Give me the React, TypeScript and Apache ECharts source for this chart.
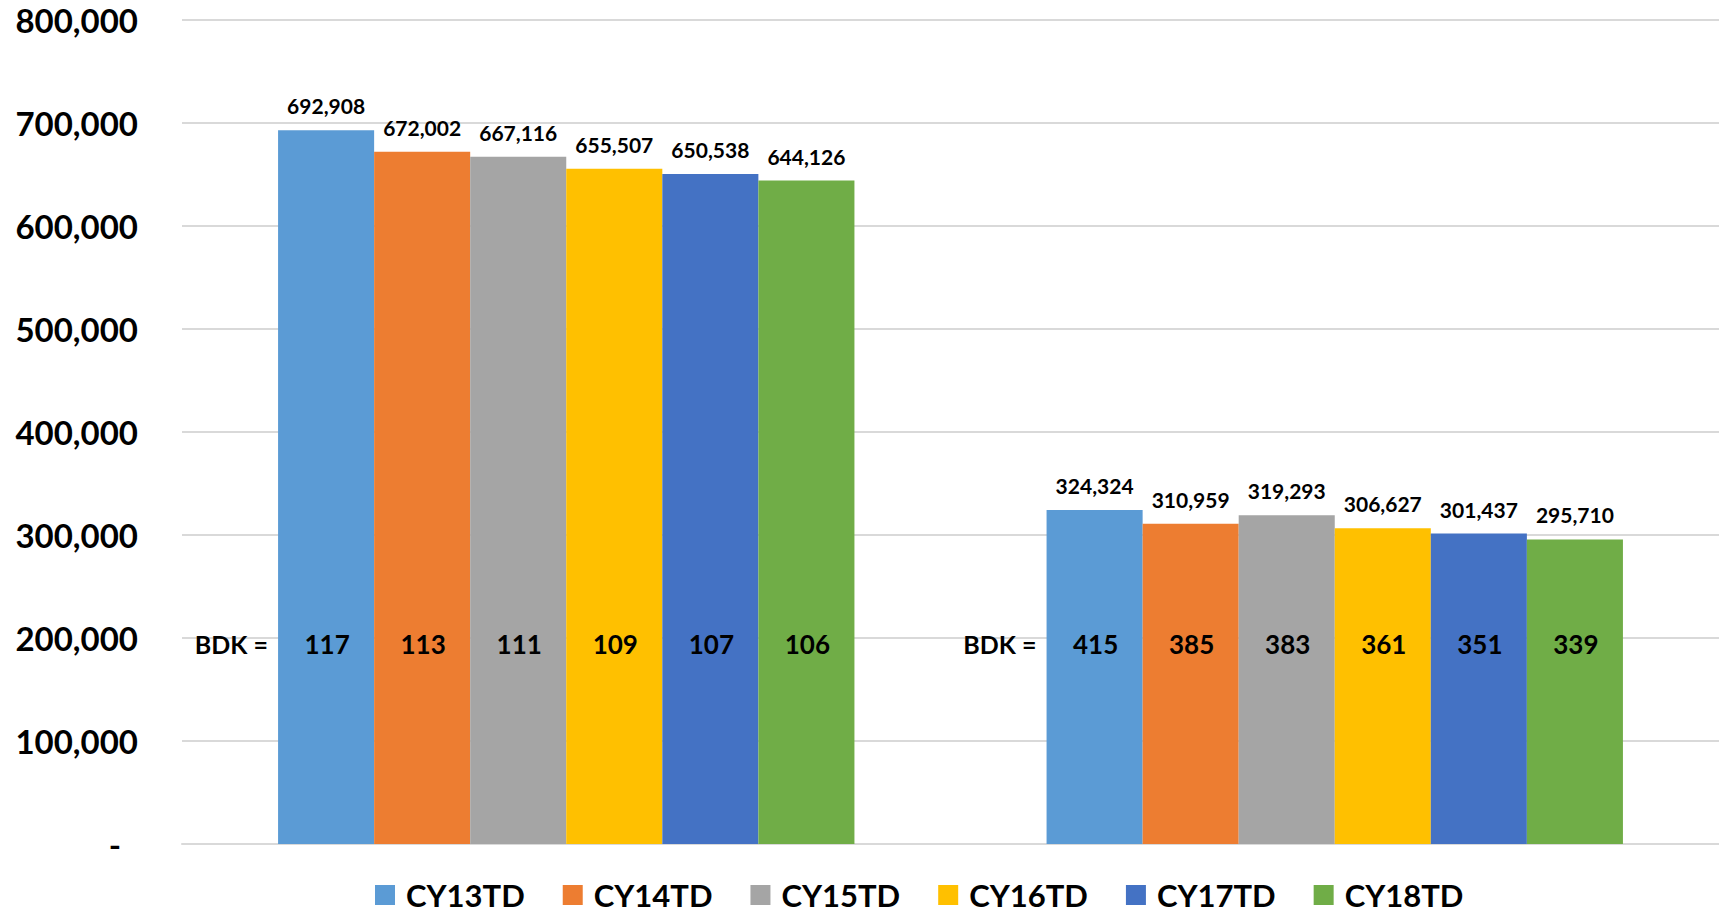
import React, { useEffect, useRef } from "react";
import * as echarts from "echarts";

// Two groups of year-to-date totals, one bar per calendar year
const CATEGORIES = ["Group 1", "Group 2"];
const SERIES_NAMES = ["CY13TD", "CY14TD", "CY15TD", "CY16TD", "CY17TD", "CY18TD"];
const COLORS = ["#5B9BD5", "#ED7D31", "#A5A5A5", "#FFC000", "#4472C4", "#70AD47"];

const CY13TD = [692908, 324324];
const CY14TD = [672002, 310959];
const CY15TD = [667116, 319293];
const CY16TD = [655507, 306627];
const CY17TD = [650538, 301437];
const CY18TD = [644126, 295710];
const VALUES = [CY13TD, CY14TD, CY15TD, CY16TD, CY17TD, CY18TD];

// BDK figures written inside each bar
const BDK_CY13 = [117, 415];
const BDK_CY14 = [113, 385];
const BDK_CY15 = [111, 383];
const BDK_CY16 = [109, 361];
const BDK_CY17 = [107, 351];
const BDK_CY18 = [106, 339];
const BDK = [BDK_CY13, BDK_CY14, BDK_CY15, BDK_CY16, BDK_CY17, BDK_CY18];
const BDK_LABEL_LEVEL = 194000;

const Y_MIN = 0;
const Y_MAX = 800000;
const Y_STEP = 100000;

const FONT = "Lato, 'Open Sans', sans-serif";
const GAP_RATIO = 0.25;

export default function App() {
  const ref = useRef<HTMLDivElement>(null);

  useEffect(() => {
    if (!ref.current) return;
    const chart = echarts.init(ref.current, undefined, { renderer: "svg" });

    const barSeries = SERIES_NAMES.map((name, si) => ({
      name,
      type: "bar",
      data: VALUES[si],
      barGap: "0%",
      barCategoryGap: `${GAP_RATIO * 100}%`,
      itemStyle: { color: COLORS[si] },
      label: {
        show: true,
        position: "top",
        distance: 14,
        color: "#000",
        fontFamily: FONT,
        fontWeight: "bold",
        fontSize: 21,
        formatter: (p: any) => Number(p.value).toLocaleString("en-US"),
      },
    }));

    const bdkData: any[] = [];
    CATEGORIES.forEach((_, ci) => {
      bdkData.push([ci, -1, 0]);
      SERIES_NAMES.forEach((__, si) => bdkData.push([ci, si, BDK[si][ci]]));
    });

    const bdkSeries = {
      name: "BDK",
      type: "custom",
      silent: true,
      z: 10,
      data: bdkData,
      encode: { x: 0 },
      renderItem: (params: any, api: any) => {
        const ci = api.value(0);
        const si = api.value(1);
        const pt = api.coord([ci, BDK_LABEL_LEVEL]);
        const band = api.size([1, 0])[0];
        const groupW = band * (1 - GAP_RATIO);
        const barW = groupW / SERIES_NAMES.length;
        const left = pt[0] - groupW / 2;
        if (si < 0) {
          return {
            type: "text",
            x: left - 10,
            y: pt[1],
            style: {
              text: "BDK =",
              fill: "#000",
              font: `bold 25px ${FONT}`,
              align: "right",
              verticalAlign: "middle",
            },
          };
        }
        return {
          type: "text",
          x: left + (si + 0.5) * barW + 1,
          y: pt[1],
          style: {
            text: String(api.value(2)),
            fill: "#000",
            font: `bold 26px ${FONT}`,
            align: "center",
            verticalAlign: "middle",
          },
        };
      },
    };

    chart.setOption({
      animation: false,
      color: COLORS,
      grid: { left: 182, right: 0, top: 20, bottom: 71, containLabel: false },
      legend: {
        data: SERIES_NAMES,
        left: 370,
        top: 874,
        icon: "rect",
        itemWidth: 20,
        itemHeight: 20,
        itemGap: 38,
        textStyle: {
          color: "#000",
          fontFamily: FONT,
          fontWeight: "bold",
          fontSize: 31,
          lineHeight: 32,
          width: 117,
          padding: [0, 0, 0, 6],
        },
      },
      xAxis: {
        type: "category",
        data: CATEGORIES,
        axisLabel: { show: false },
        axisTick: { show: false },
        axisLine: { show: true, lineStyle: { color: "#d9d9d9", width: 2 } },
      },
      yAxis: {
        type: "value",
        min: Y_MIN,
        max: Y_MAX,
        interval: Y_STEP,
        axisLine: { show: false },
        axisTick: { show: false },
        splitLine: { lineStyle: { color: "#d9d9d9", width: 2 } },
        axisLabel: {
          margin: 44,
          color: "#000",
          fontFamily: FONT,
          fontWeight: "bold",
          fontSize: 33,
          formatter: (v: number) => (v === 0 ? "{z|-}" : v.toLocaleString("en-US")),
          rich: {
            z: {
              color: "#000",
              fontFamily: FONT,
              fontWeight: "bold",
              fontSize: 33,
              padding: [0, 17, 0, 0],
            },
          },
        },
      },
      series: [...barSeries, bdkSeries],
    });

    return () => chart.dispose();
  }, []);

  return (
    <div
      ref={ref}
      style={{ position: "absolute", left: 0, top: 0, width: 1719, height: 915, background: "#fff" }}
    />
  );
}
